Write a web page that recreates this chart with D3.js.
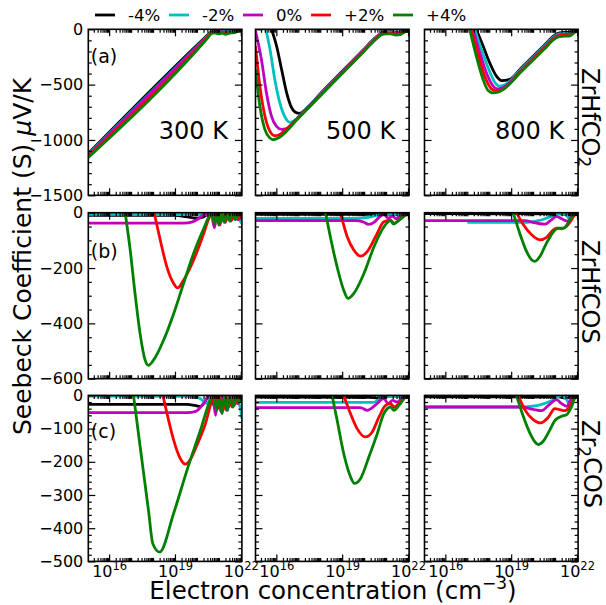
<!DOCTYPE html>
<html><head><meta charset="utf-8">
<script src="https://cdn.jsdelivr.net/npm/d3@7"></script>
<style>
body{margin:0;background:#fff}
svg{display:block}
text{font-family:"DejaVu Sans",sans-serif;fill:#000}
</style>
</head><body>
<svg id="chart" width="606" height="605"></svg>
<script>
// ---------------- DATA ----------------
const seriesLabels = ["-4%", "-2%", "0%", "+2%", "+4%"];
const seriesColors = ["#000000", "#00bfbf", "#bf00bf", "#ff0000", "#008000"];
const temperatures = ["300 K", "500 K", "800 K"];
const panelLetters = ["(a)", "(b)", "(c)"];
const xMajorExponents = [16, 19, 22];
const yMajorTicks = [[0, -500, -1000, -1500], [0, -200, -400, -600], [0, -100, -200, -300, -400, -500]];
const yMinorStep = [100, 50, 20];
const yDomains = [[-1500, 0], [-600, 0], [-500, 0]];

// each series: [log10(n / cm^-3), S (uV/K)]
const co2_300 = [
  [[15.05,-1122],[20.45,-58],[20.6,-30],[20.75,-16],[21.0,-12],[21.3,-15],[21.6,-18],[21.85,-8],[22.05,-3]],
  [[15.05,-1130],[20.45,-64],[20.6,-34],[20.75,-19],[21.0,-15],[21.3,-20],[21.6,-22],[21.85,-10],[22.05,-3]],
  [[15.05,-1138],[20.45,-70],[20.62,-36],[20.8,-22],[21.0,-20],[21.3,-25],[21.6,-25],[21.85,-12],[22.05,-3]],
  [[15.05,-1146],[20.45,-77],[20.62,-39],[20.8,-25],[21.0,-27],[21.3,-30],[21.6,-28],[21.85,-14],[22.05,-4]],
  [[15.05,-1158],[20.45,-88],[20.65,-42],[20.8,-32],[21.0,-42],[21.15,-35],[21.3,-45],[21.5,-35],[21.7,-30],[21.9,-15],[22.05,-5]]
];
const co2_500 = [
  [[15.78,0],[16.01,-151],[16.24,-363],[16.47,-575],[16.70,-711],[16.93,-756],[17.05,-759],[17.38,-715],[18.0,-582],[19.0,-380],[20.0,-178],[20.5,-77],[20.75,-40],[20.95,-25],[21.2,-22],[21.5,-25],[21.7,-20],[22.0,0]],
  [[15.52,0],[15.71,-181],[15.93,-454],[16.16,-665],[16.39,-792],[16.62,-841],[16.85,-820],[17.3,-729],[18.0,-587],[19.0,-385],[20.0,-183],[20.5,-82],[20.75,-43],[20.95,-30],[21.2,-28],[21.5,-32],[21.7,-25],[22.0,-2]],
  [[15.05,-15],[15.32,-272],[15.55,-575],[15.78,-786],[16.01,-877],[16.24,-905],[16.47,-897],[17.0,-794],[18.0,-592],[19.0,-390],[20.0,-188],[20.5,-87],[20.75,-46],[20.95,-34],[21.2,-32],[21.5,-38],[21.7,-30],[22.02,-3]],
  [[15.05,-151],[15.25,-514],[15.48,-786],[15.71,-922],[15.93,-962],[16.16,-950],[16.5,-894],[17.0,-799],[18.0,-597],[19.0,-395],[20.0,-193],[20.5,-92],[20.75,-50],[20.95,-38],[21.2,-36],[21.5,-44],[21.7,-36],[22.03,-3]],
  [[15.05,-363],[15.25,-696],[15.48,-907],[15.71,-983],[15.86,-998],[16.16,-974],[17.0,-804],[18.0,-602],[19.0,-400],[20.0,-198],[20.5,-97],[20.75,-55],[20.95,-42],[21.2,-42],[21.45,-52],[21.65,-48],[21.85,-25],[22.05,0]]
];
const co2_800 = [
  [[17.41,0],[17.72,-151],[18.02,-302],[18.33,-423],[18.56,-463],[18.9,-455],[19.5,-340],[20.5,-146],[21.0,-50],[21.2,-32],[21.45,-28],[21.65,-28],[21.85,-15],[22.0,0]],
  [[17.34,0],[17.64,-181],[17.95,-348],[18.25,-478],[18.48,-514],[18.71,-502],[19.5,-349],[20.5,-155],[21.0,-60],[21.2,-42],[21.45,-38],[21.65,-40],[21.85,-22],[22.02,0]],
  [[17.26,0],[17.57,-212],[17.87,-393],[18.18,-514],[18.37,-538],[18.63,-526],[19.5,-358],[20.5,-164],[21.0,-68],[21.2,-50],[21.45,-46],[21.65,-48],[21.85,-28],[22.03,0]],
  [[17.18,0],[17.49,-227],[17.79,-423],[18.1,-538],[18.33,-556],[18.55,-550],[19.5,-366],[20.5,-172],[21.0,-76],[21.2,-58],[21.45,-54],[21.65,-56],[21.85,-32],[22.04,0]],
  [[17.11,0],[17.41,-242],[17.72,-454],[17.95,-553],[18.18,-575],[18.40,-569],[18.63,-544],[19.5,-375],[20.5,-181],[21.0,-84],[21.2,-66],[21.45,-62],[21.65,-62],[21.85,-35],[22.05,-2]]
];
const cos_300 = [
  [[15.05,-10],[19.0,-10],[19.5,-14],[20.0,-20],[20.3,-15],[20.55,-3],[20.7,-8],[20.8,-30],[20.9,-5],[21.0,-25],[21.1,-3],[21.2,-28],[21.3,-5],[21.45,-20],[21.6,-2],[21.75,-15],[21.9,-3],[22.05,-8]],
  [[15.05,-6],[20.0,-7],[20.4,-5],[20.6,-2],[20.75,-20],[20.85,-3],[21.0,-30],[21.1,-5],[21.25,-25],[21.4,-3],[21.55,-20],[21.7,-2],[21.85,-15],[22.05,-40]],
  [[15.05,-38],[19.4,-38],[19.8,-33],[20.1,-20],[20.35,-5],[20.5,-12],[20.65,-5],[20.8,-55],[20.9,-10],[21.05,-45],[21.15,-5],[21.3,-35],[21.4,-5],[21.55,-30],[21.7,-5],[21.85,-25],[22.05,-10]],
  [[18.05,0],[18.33,-99],[18.63,-196],[18.94,-256],[19.12,-272],[19.39,-244],[19.85,-171],[20.31,-75],[20.55,-20],[20.69,-2],[20.8,-35],[20.9,-5],[21.05,-40],[21.15,-5],[21.3,-30],[21.45,-3],[21.6,-25],[21.75,-3],[21.9,-20],[22.05,-5]],
  [[16.73,0],[16.96,-135],[17.18,-292],[17.41,-437],[17.64,-533],[17.79,-552],[18.02,-533],[18.48,-461],[18.94,-365],[19.39,-256],[19.85,-147],[20.31,-57],[20.55,-15],[20.69,-2],[20.8,-40],[20.9,-5],[21.0,-45],[21.1,-3],[21.25,-35],[21.35,-3],[21.5,-30],[21.6,-2],[21.75,-25],[21.9,-2],[22.05,-10]]
];
const cos_500 = [
  [[15.05,-6],[20.5,-6],[20.9,-4],[21.3,-6],[21.7,-3],[22.05,0]],
  [[15.05,-21],[19.5,-21],[20.0,-19],[20.4,-13],[20.7,-6],[20.95,-2],[21.3,-3],[21.6,-8],[21.8,-3],[22.05,-2]],
  [[15.05,-29],[19.6,-29],[19.95,-33],[20.2,-42],[20.45,-35],[20.7,-15],[20.9,-5],[21.1,-20],[21.3,-12],[21.45,-22],[21.65,-10],[21.85,-5],[22.05,-2]],
  [[18.92,0],[19.23,-87],[19.53,-135],[19.84,-157],[20.14,-141],[20.52,-87],[20.9,-33],[21.21,-27],[21.36,-39],[21.59,-27],[21.9,-8],[22.05,0]],
  [[18.24,0],[18.46,-87],[18.77,-196],[19.07,-280],[19.27,-310],[19.53,-292],[19.99,-220],[20.45,-123],[20.9,-51],[21.21,-29],[21.33,-41],[21.59,-27],[21.9,-5],[22.05,0]]
];
const cos_800 = [
  [[15.05,-3],[20.5,-4],[21.0,-3],[21.4,-5],[21.6,-9],[21.8,-3],[22.05,0]],
  [[17.0,-35],[19.5,-35],[20.0,-32],[20.23,-29],[20.6,-20],[20.84,-13],[21.1,-5],[21.3,-1],[21.5,-8],[21.68,-25],[21.8,-15],[21.95,-2]],
  [[15.05,-29],[19.62,-29],[20.0,-35],[20.3,-40],[20.54,-41],[20.8,-28],[21.07,-13],[21.3,-22],[21.6,-31],[21.83,0],[22.05,-2]],
  [[19.24,0],[19.55,-43],[19.93,-80],[20.31,-98],[20.61,-89],[20.92,-62],[21.07,-56],[21.3,-58],[21.53,-49],[21.76,-25],[21.94,0]],
  [[19.09,0],[19.39,-74],[19.7,-140],[19.93,-170],[20.08,-176],[20.31,-158],[20.61,-110],[20.92,-70],[21.15,-56],[21.38,-56],[21.6,-37],[21.83,-7],[21.99,0]]
];
const c2s_300 = [
  [[15.05,-27],[19.55,-27],[19.9,-30],[20.16,-33],[20.35,-20],[20.54,-2],[20.7,-10],[20.8,-35],[20.9,-5],[21.05,-40],[21.15,-5],[21.3,-30],[21.45,-5],[21.6,-25],[21.75,-3],[21.9,-20],[22.05,-5]],
  [[15.05,-2],[19.9,-3],[20.2,-12],[20.46,-25],[20.65,-5],[20.75,0],[20.9,-20],[21.0,-3],[21.2,-25],[21.3,-3],[21.5,-20],[21.6,-3],[21.8,-15],[21.95,-30],[22.05,-70]],
  [[15.05,-52],[19.55,-52],[19.95,-48],[20.3,-25],[20.61,0],[20.75,-15],[20.85,-60],[20.95,-10],[21.1,-50],[21.2,-8],[21.35,-45],[21.45,-5],[21.6,-35],[21.7,-5],[21.85,-25],[22.05,-5]],
  [[18.45,0],[18.71,-75],[18.94,-135],[19.24,-190],[19.47,-207],[19.7,-193],[20.0,-150],[20.39,-85],[20.69,-15],[20.84,0],[20.95,-40],[21.05,-5],[21.2,-45],[21.3,-5],[21.45,-35],[21.55,-5],[21.7,-30],[21.85,-3],[22.05,-10]],
  [[17.11,0],[17.34,-117],[17.57,-234],[17.8,-350],[17.99,-447],[18.3,-472],[18.94,-355],[19.55,-225],[20.16,-105],[20.61,-15],[20.77,0],[20.9,-45],[21.0,-5],[21.15,-55],[21.25,-5],[21.4,-45],[21.5,-5],[21.65,-35],[21.75,-3],[21.9,-20],[22.05,-3]]
];
const c2s_500 = [
  [[15.05,-5],[20.3,-6],[20.6,-8],[20.9,-4],[21.3,-2],[22.05,0]],
  [[15.05,-21],[20.45,-21],[20.7,-10],[20.9,-2],[21.3,-3],[21.7,-5],[22.05,-2]],
  [[15.05,-37],[19.84,-37],[20.14,-45],[20.5,-30],[20.9,-10],[21.1,-25],[21.3,-15],[21.5,-20],[21.8,-5],[22.05,-2]],
  [[19.07,0],[19.38,-55],[19.68,-100],[20.06,-125],[20.37,-110],[20.68,-65],[20.98,-30],[21.21,-25],[21.36,-35],[21.59,-25],[21.9,-5],[22.05,0]],
  [[18.54,0],[18.77,-75],[19.07,-175],[19.38,-245],[19.56,-265],[19.84,-250],[20.22,-185],[20.6,-115],[20.9,-55],[21.21,-35],[21.36,-45],[21.59,-30],[21.9,0]]
];
const c2s_800 = [
  [[15.05,-4],[20.5,-5],[21.0,-3],[21.5,-8],[21.8,-3],[22.05,0]],
  [[15.05,-35],[19.47,-35],[19.9,-33],[20.23,-30],[20.84,-16],[21.3,0],[21.5,-10],[21.68,-28],[21.85,-10],[22.0,0]],
  [[15.05,-35],[19.47,-35],[20.0,-42],[20.39,-46],[20.7,-30],[21.07,-13],[21.3,-25],[21.53,-33],[21.83,0],[22.05,-2]],
  [[19.32,0],[19.62,-43],[20.0,-73],[20.35,-83],[20.69,-66],[20.99,-40],[21.22,-43],[21.45,-46],[21.68,-33],[21.91,-3],[22.05,0]],
  [[19.24,0],[19.55,-63],[19.85,-113],[20.08,-140],[20.23,-148],[20.46,-138],[20.77,-103],[20.99,-76],[21.3,-63],[21.53,-58],[21.76,-33],[21.94,-3],[22.05,0]]
];
const panelData = [[co2_300, co2_500, co2_800], [cos_300, cos_500, cos_800], [c2s_300, c2s_500, c2s_800]];

// ---------------- LAYOUT ----------------
const svg = d3.select("#chart");
const colLeft = [88.3, 255.5, 424.5];
const rowTop = [29.3, 212.7, 395.4];
const W = 153.6, H = 166;
const xDomain = [Math.pow(10, 15.05), Math.pow(10, 22.05)];
const x = d3.scaleLog().domain(xDomain).range([0, W]);
const xMajor = xMajorExponents.map(e => Math.pow(10, e));
const xMinor = [];
for (let n = 15; n <= 21; n++) for (let k = 1; k <= 9; k++) {
  const v = k * Math.pow(10, n);
  if (v >= xDomain[0] && v <= xDomain[1] && !(k === 1 && xMajorExponents.includes(n))) xMinor.push(v);
}
const fmtY = d3.format("d");

const defs = svg.append("defs");

for (let r = 0; r < 3; r++) {
  const y = d3.scaleLinear().domain(yDomains[r]).range([H, 0]);
  const minor = d3.range(yDomains[r][0], yDomains[r][1] + 1, yMinorStep[r]).filter(v => !yMajorTicks[r].includes(v));
  for (let c = 0; c < 3; c++) {
    const g = svg.append("g").attr("transform", `translate(${colLeft[c]},${rowTop[r]})`);
    const cid = `clip${r}${c}`;
    defs.append("clipPath").attr("id", cid).append("rect").attr("width", W).attr("height", H);

    const line = d3.line().x(d => x(Math.pow(10, d[0]))).y(d => y(d[1])).curve(d3.curveMonotoneX);
    const lg = g.append("g").attr("clip-path", `url(#${cid})`);
    panelData[r][c].forEach((s, i) => {
      lg.append("path").attr("d", line(s)).attr("fill", "none")
        .attr("stroke", seriesColors[i]).attr("stroke-width", 2.8)
        .attr("stroke-linejoin", "round").attr("stroke-linecap", "butt");
    });

    const addAxis = (axis, tf, labels) => {
      const a = g.append("g").attr("transform", tf).call(axis);
      a.select(".domain").remove();
      a.selectAll(".tick line").attr("stroke", "#000").attr("stroke-width", 1.2);
      if (!labels) a.selectAll(".tick text").remove();
      return a;
    };
    const bx = addAxis(d3.axisBottom(x).tickValues(xMajor).tickSizeInner(-7).tickSizeOuter(0).tickPadding(4), `translate(0,${H})`, r === 2);
    if (r === 2) {
      bx.selectAll(".tick text").each(function(d) {
        const t = d3.select(this).text(null).attr("font-size", 16).attr("font-family", "DejaVu Sans").attr("fill", "#000");
        t.append("tspan").text("10");
        t.append("tspan").text(String(Math.round(Math.log10(d)))).attr("font-size", 11.5).attr("dy", "-0.55em");
      });
    }
    addAxis(d3.axisBottom(x).tickValues(xMinor).tickSizeInner(-3.5).tickSizeOuter(0), `translate(0,${H})`, false);
    addAxis(d3.axisTop(x).tickValues(xMajor).tickSizeInner(-7).tickSizeOuter(0), `translate(0,0)`, false);
    addAxis(d3.axisTop(x).tickValues(xMinor).tickSizeInner(-3.5).tickSizeOuter(0), `translate(0,0)`, false);
    const ly = addAxis(d3.axisLeft(y).tickValues(yMajorTicks[r]).tickFormat(fmtY).tickSizeInner(-7).tickSizeOuter(0).tickPadding(5), `translate(0,0)`, c === 0);
    ly.selectAll(".tick text").attr("font-size", 16).attr("font-family", "DejaVu Sans").attr("fill", "#000");
    addAxis(d3.axisLeft(y).tickValues(minor).tickSizeInner(-3.5).tickSizeOuter(0), `translate(0,0)`, false);
    addAxis(d3.axisRight(y).tickValues(yMajorTicks[r]).tickSizeInner(-7).tickSizeOuter(0), `translate(${W},0)`, false);
    addAxis(d3.axisRight(y).tickValues(minor).tickSizeInner(-3.5).tickSizeOuter(0), `translate(${W},0)`, false);

    g.append("rect").attr("width", W).attr("height", H).attr("fill", "none").attr("stroke", "#000").attr("stroke-width", 1.6);

    if (r === 0) {
      g.append("text").attr("x", 70.5).attr("y", 110).attr("font-size", 24).text(temperatures[c]);
    }
    if (c === 0) {
      const letterY = [34, 45.5, 43];
      g.append("text").attr("x", 2.5).attr("y", letterY[r]).attr("font-size", 19).text(panelLetters[r]);
    }
  }
}

// Row labels (rotated)
const rowLabel = (yTop, parts) => {
  const t = svg.append("text").attr("transform", `translate(582,${yTop}) rotate(90)`).attr("font-size", 24);
  parts.forEach(p => {
    const ts = t.append("tspan").text(p[0]);
    if (p[1] === "sub") ts.attr("font-size", 17).attr("dy", "0.25em");
    if (p[1] === "back") ts.attr("dy", "-0.25em");
  });
};
rowLabel(68, [["ZrHfCO"], ["2", "sub"]]);
rowLabel(240, [["ZrHfCOS"]]);
rowLabel(420, [["Zr"], ["2", "sub"], ["COS", "back"]]);

// Y axis title
const yt = svg.append("text").attr("transform", "translate(31,256.5) rotate(-90)").attr("text-anchor", "middle").attr("font-size", 25);
yt.append("tspan").text("Seebeck Coefficient (S) ");
yt.append("tspan").text("μ").attr("font-style", "italic");
yt.append("tspan").text("V/K");

// X axis title
const xt = svg.append("text").attr("x", 333).attr("y", 599).attr("text-anchor", "middle").attr("font-size", 24.5);
xt.append("tspan").text("Electron concentration (cm");
xt.append("tspan").text("−3").attr("font-size", 17).attr("dy", "-0.6em");
xt.append("tspan").text(")").attr("dy", "0.41em");

// Legend
let lx = 95;
const legend = svg.append("g");
seriesLabels.forEach((lab, i) => {
  legend.append("line").attr("x1", lx).attr("x2", lx + 20).attr("y1", 15).attr("y2", 15)
    .attr("stroke", seriesColors[i]).attr("stroke-width", 2.8);
  const t = legend.append("text").attr("x", lx + 33).attr("y", 21).attr("font-size", 16.6).text(lab);
  lx = lx + 33 + t.node().getComputedTextLength() + 8.7;
});
</script>
</body></html>
